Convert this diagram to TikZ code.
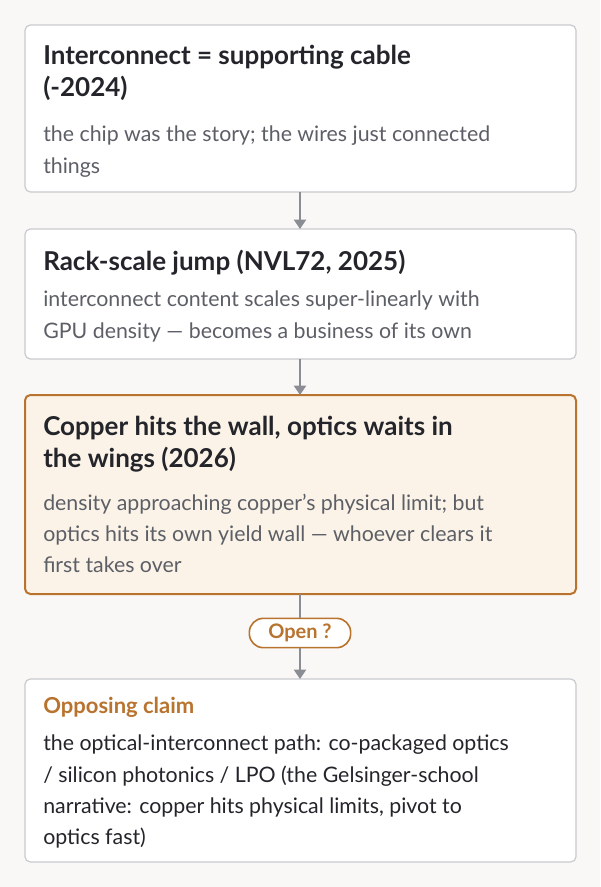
\documentclass[tikz,border=0pt]{standalone}
\usepackage{fontspec}
\setmainfont{Lato}
\usetikzlibrary{arrows.meta,positioning}
\definecolor{pageBg}{HTML}{FAF8F6}
\definecolor{boxLine}{HTML}{C9CACE}
\definecolor{inkDark}{HTML}{23252B}
\definecolor{inkGray}{HTML}{5C5F66}
\definecolor{accent}{HTML}{B8732E}
\definecolor{accentFill}{HTML}{FCF3E8}
\definecolor{arrowGray}{HTML}{8A8D94}
\tikzset{
  card/.style={draw=boxLine,fill=white,rounded corners=4pt,line width=0.9pt},
  hotcard/.style={draw=accent,fill=accentFill,rounded corners=4pt,line width=1.5pt},
  title/.style={anchor=north west,inner sep=0pt,align=left,
    font=\fontsize{19.5}{24}\selectfont\bfseries,text=inkDark},
  body/.style={anchor=north west,inner sep=0pt,align=left,
    font=\fontsize{16}{23.3}\selectfont,text=inkGray},
  link/.style={draw=arrowGray,line width=1.5pt,-{Triangle[length=7pt,width=9pt]}},
  pill/.style={draw=accent,fill=white,rounded corners=10.5pt,line width=1.2pt,
    font=\fontsize{15}{16}\selectfont\bfseries,text=accent,
    minimum width=76pt,minimum height=22pt,inner sep=2pt}
}
\begin{document}
\begin{tikzpicture}[x=0.75pt,y=-0.75pt]
  \fill[pageBg] (0,0) rectangle (600,887);
  \useasboundingbox (0,0) rectangle (600,887);
  % cards
  \draw[card] (25,25) rectangle (576,192);
  \coordinate (c1top) at (300,25); \coordinate (c1bot) at (300,192);
  \draw[card] (25,229) rectangle (576,359);
  \coordinate (c2top) at (300,229); \coordinate (c2bot) at (300,359);
  \draw[hotcard] (25,395) rectangle (576,594);
  \coordinate (c3top) at (300,395); \coordinate (c3bot) at (300,594);
  \draw[card] (25,679) rectangle (576,862);
  \coordinate (c4top) at (300,679);
  % texts
  \node[title] (t1) at (43,45) {Interconnect = supporting cable\\(-2024)};
  \node[body] (b1) at (43,126) {the chip was the story; the wires just connected\\things};
  \node[title] (t2) at (43,250) {Rack-scale jump (NVL72, 2025)};
  \node[body] (b2) at (43,291) {interconnect content scales super-linearly with\\GPU density — becomes a business of its own};
  \node[title] (t3) at (43,416) {Copper hits the wall, optics waits in\\the wings (2026)};
  \node[body] (b3) at (43,494) {density approaching copper\char"0027 s physical limit; but\\optics hits its own yield wall — whoever clears it\\first takes over};
  \node[title,font=\fontsize{16.5}{20}\selectfont\bfseries,text=accent] (t4) at (43,697) {Opposing claim};
  \node[body,text=inkDark] (b4) at (43,735) {the optical-interconnect path: co-packaged optics\\/ silicon photonics / LPO (the Gelsinger-school\\narrative: copper hits physical limits, pivot to\\optics fast)};
  % connectors
  \draw[link] (c1bot) -- (c2top);
  \draw[link] (c2bot) -- (c3top);
  \node[pill] (open) at (300,633) {Open ?};
  \draw[draw=arrowGray,line width=1.5pt] (c3bot) -- (open);
  \draw[link] (open) -- (c4top);
\end{tikzpicture}
\end{document}
